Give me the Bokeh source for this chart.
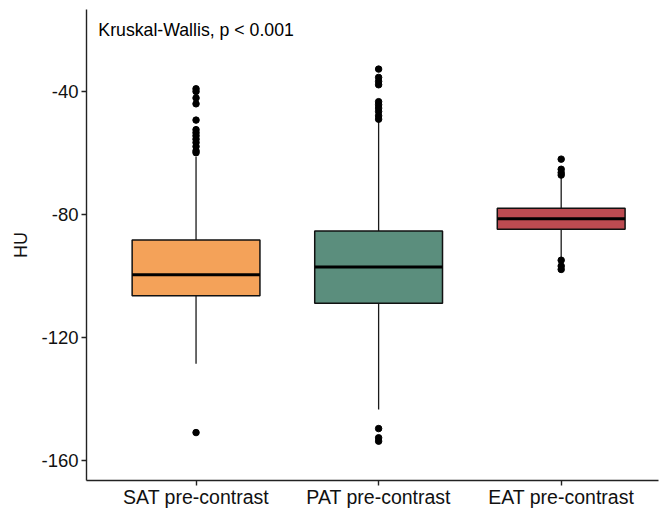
from bokeh.plotting import figure
from bokeh.models import Range1d, FixedTicker, ColumnDataSource
from bokeh.core.properties import value
from bokeh.embed import file_html
from bokeh.resources import INLINE

categories = ["SAT pre-contrast", "PAT pre-contrast", "EAT pre-contrast"]
colors = ["#F4A259", "#5B8E7D", "#BC4B51"]
q1 = [-106.4, -108.8, -84.7]
median = [-99.5, -97.0, -81.3]
q3 = [-88.2, -85.3, -77.9]
whisker_low = [-128.5, -143.4, -94.5]
whisker_high = [-61.1, -49.4, -67.9]
outliers_sat = [-39.0, -39.9, -42.0, -43.9, -49.2, -52.3, -53.3, -54.3, -55.4,
                -56.5, -57.8, -59.2, -59.8, -150.9]
outliers_pat = [-32.6, -35.3, -36.6, -37.7, -43.2, -44.2, -45.3, -46.4, -47.8,
                -48.9, -149.6, -152.6, -153.7]
outliers_eat = [-61.9, -65.2, -66.3, -67.1, -94.8, -96.7, -97.8]
y_ticks = [-160, -120, -80, -40]
y_tick_labels = ["-160", "-120", "-80", "-40"]
annotation = "Kruskal-Wallis, p < 0.001"

FONT = "Liberation Sans"
xs = [i + 1 for i in range(len(categories))]
box_w = 0.7

p = figure(width=659, height=511, output_backend="svg", toolbar_location=None,
           x_range=Range1d(0.4, 3.533), y_range=Range1d(-166.5, -13.2),
           min_border_left=86, min_border_right=1, min_border_top=9,
           min_border_bottom=31)
p.outline_line_color = None
p.xgrid.visible = False
p.ygrid.visible = False
p.background_fill_color = "white"

src = ColumnDataSource(dict(
    x=xs, q1=q1, q3=q3, med=median, wl=whisker_low, wh=whisker_high,
    color=colors,
    xl=[x - box_w / 2 for x in xs], xr=[x + box_w / 2 for x in xs],
))

# whiskers
p.segment(x0="x", y0="q3", x1="x", y1="wh", source=src, line_color="#1a1a1a", line_width=1.3)
p.segment(x0="x", y0="q1", x1="x", y1="wl", source=src, line_color="#1a1a1a", line_width=1.3)
# boxes
p.vbar(x="x", width=box_w, bottom="q1", top="q3", source=src, fill_color="color",
       line_color="#111111", line_width=1.5)
# medians
p.segment(x0="xl", y0="med", x1="xr", y1="med", source=src, line_color="black", line_width=3)

# outliers
ox, oy = [], []
for x, outs in zip(xs, [outliers_sat, outliers_pat, outliers_eat]):
    ox += [x] * len(outs)
    oy += outs
p.scatter(ox, oy, size=6.5, fill_color="black", line_color="black")

p.text(x=[0.465], y=[-20.0], text=[annotation], text_font=value(FONT),
       text_font_size="17.7px", text_color="black", text_baseline="alphabetic",
       text_align="left")

for ax in (p.xaxis[0], p.yaxis[0]):
    ax.axis_line_color = "#222222"
    ax.axis_line_width = 1.4
    ax.major_tick_line_color = "#222222"
    ax.major_tick_line_width = 1.4
    ax.major_tick_out = 5
    ax.major_tick_in = 0
    ax.minor_tick_out = 0
    ax.minor_tick_in = 0
    ax.major_label_text_font = FONT
    ax.major_label_text_color = "#111111"

p.xaxis.ticker = FixedTicker(ticks=xs)
p.xaxis.major_label_overrides = {x: c for x, c in zip(xs, categories)}
p.xaxis.major_label_standoff = 0
p.xaxis.major_label_text_font_size = "19.5px"
p.yaxis.ticker = FixedTicker(ticks=y_ticks)
p.yaxis.major_label_overrides = {t: s for t, s in zip(y_ticks, y_tick_labels)}
p.yaxis.major_label_standoff = 3
p.yaxis.major_label_text_font_size = "18.5px"
p.yaxis.axis_label = "HU"
p.yaxis.axis_label_text_font = FONT
p.yaxis.axis_label_text_font_size = "18px"
p.yaxis.axis_label_text_font_style = "normal"
p.yaxis.axis_label_text_color = "#111111"
p.yaxis.axis_label_standoff = 7

open("out.html", "w").write(file_html(p, INLINE))
